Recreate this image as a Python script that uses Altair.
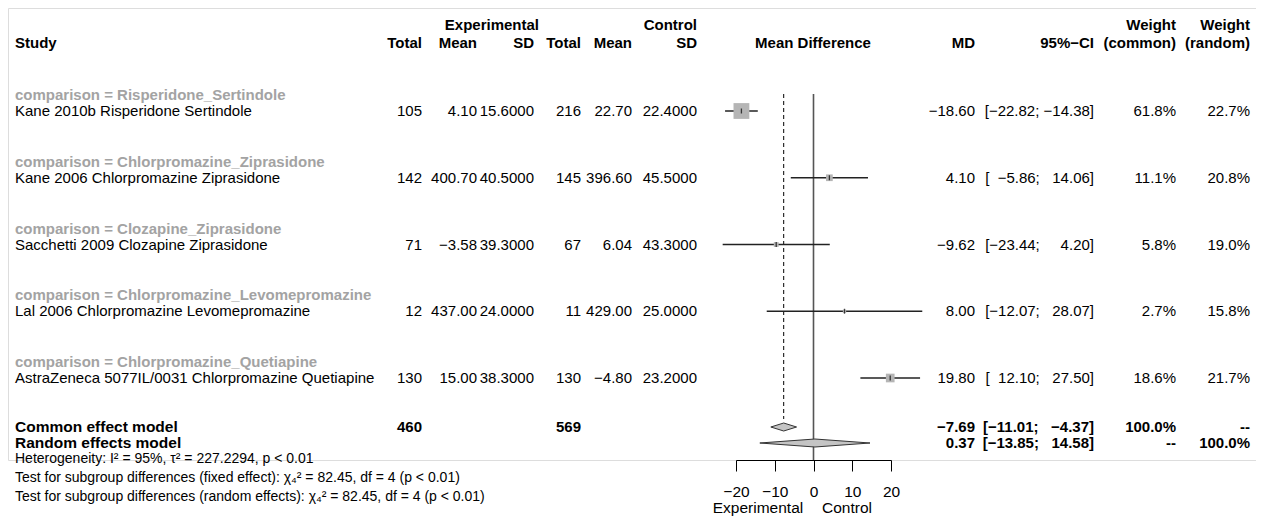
import altair as alt
import pandas as pd

# ---------------- data ----------------
comparisons = ["Risperidone_Sertindole", "Chlorpromazine_Ziprasidone", "Clozapine_Ziprasidone",
               "Chlorpromazine_Levomepromazine", "Chlorpromazine_Quetiapine"]
studies = ["Kane 2010b Risperidone Sertindole", "Kane 2006 Chlorpromazine Ziprasidone",
           "Sacchetti 2009 Clozapine Ziprasidone", "Lal 2006 Chlorpromazine Levomepromazine",
           "AstraZeneca 5077IL/0031 Chlorpromazine Quetiapine"]
n_e = [105, 142, 71, 12, 130]
mean_e = [4.10, 400.70, -3.58, 437.00, 15.00]
sd_e = [15.6, 40.5, 39.3, 24.0, 38.3]
n_c = [216, 145, 67, 11, 130]
mean_c = [22.70, 396.60, 6.04, 429.00, -4.80]
sd_c = [22.4, 45.5, 43.3, 25.0, 23.2]
md = [-18.60, 4.10, -9.62, 8.00, 19.80]
ci_lo = [-22.82, -5.86, -23.44, -12.07, 12.10]
ci_hi = [-14.38, 14.06, 4.20, 28.07, 27.50]
w_common = [61.8, 11.1, 5.8, 2.7, 18.6]
w_random = [22.7, 20.8, 19.0, 15.8, 21.7]

models = ["Common effect model", "Random effects model"]
model_n_e = ["460", ""]
model_n_c = ["569", ""]
model_md = [-7.69, 0.37]
model_lo = [-11.01, -13.85]
model_hi = [-4.37, 14.58]
model_w_common = ["100.0%", "--"]
model_w_random = ["--", "100.0%"]

axis_ticks = [-20, -10, 0, 10, 20]
footnotes = ["Heterogeneity: I\u00b2 = 95%, \u03c4\u00b2 = 227.2294, p < 0.01",
             "Test for subgroup differences (fixed effect): \u03c7\u2084\u00b2 = 82.45, df = 4 (p < 0.01)",
             "Test for subgroup differences (random effects): \u03c7\u2084\u00b2 = 82.45, df = 4 (p < 0.01)"]

# ---------------- layout ----------------
FONT = "Liberation Sans, Arial, Helvetica, sans-serif"
FS = 15
W, H = 1248, 452
ROW = 16.6875
YS = alt.Scale(domain=[0, H / ROW], reverse=True, nice=False, zero=False)
XS = alt.Scale(domain=[-20, 20], range=[728, 883], nice=False, zero=False)
XAX = alt.Axis(values=axis_ticks, domain=True, domainColor="black", domainWidth=1,
               grid=False, tickSize=11, tickColor="black",
               tickWidth=1, labelFont=FONT, labelFontSize=15.5, labelColor="black",
               labelPadding=13, title=None, labelFlush=False)


def r(px):  # chart pixel -> row units
    return px / ROW


r_h1, r_h2 = r(17), r(35)
r_grp = [r(87 + 66.75 * k) for k in range(5)]
r_st = [r(103 + 66.75 * k) for k in range(5)]
r_mod = [r(419), r(435)]
r_foot = [r(451), r(470), r(489)]
r_top, r_dash_end, r_axis = r(86), r(411), H / ROW
dia_h = r(4)


def fmt(v, d=2):
    s = f"{abs(v):.{d}f}"
    return ("\u2212" + s) if v < 0 else s


def ci(lo, hi):
    a, b = fmt(lo), fmt(hi)
    pa = "\u2007" * max(0, 6 - len(a))
    pb = "\u2007" * max(0, 6 - len(b))
    return f"[{pa}{a}; {pb}{b}]"


def txt(values, rows, x, align="right", bold=False, color="black", size=FS, baseline="middle"):
    d = pd.DataFrame({"t": values, "row": rows})
    return alt.Chart(d).mark_text(
        align=align, baseline=baseline, font=FONT, fontSize=size,
        fontWeight="bold" if bold else "normal", color=color
    ).encode(x=alt.value(x), y=alt.Y("row:Q", scale=YS, axis=None), text="t:N")


# column right edges (chart px)
C_ST, C_NE, C_ME, C_SE, C_NC, C_MC, C_SC = 7, 414, 469, 526, 573, 624, 689
C_MD, C_CI, C_WC, C_WR = 967, 1086, 1168, 1242

layers = []
layers += [
    txt(["Experimental"], [r_h1], 531, bold=True),
    txt(["Control"], [r_h1], C_SC, bold=True),
    txt(["Weight"], [r_h1], C_WC, bold=True),
    txt(["Weight"], [r_h1], C_WR, bold=True),
    txt(["Study"], [r_h2], C_ST, align="left", bold=True),
    txt(["Total"], [r_h2], C_NE, bold=True),
    txt(["Mean"], [r_h2], C_ME, bold=True),
    txt(["SD"], [r_h2], C_SE, bold=True),
    txt(["Total"], [r_h2], C_NC, bold=True),
    txt(["Mean"], [r_h2], C_MC, bold=True),
    txt(["SD"], [r_h2], C_SC, bold=True),
    txt(["Mean Difference"], [r_h2], 805, align="center", bold=True),
    txt(["MD"], [r_h2], C_MD, bold=True),
    txt(["95%\u2212CI"], [r_h2], C_CI, bold=True),
    txt(["(common)"], [r_h2], C_WC, bold=True),
    txt(["(random)"], [r_h2], C_WR, bold=True),
]
layers += [
    txt(["comparison = " + c for c in comparisons], r_grp, C_ST, align="left", bold=True, color="#a3a3a3"),
    txt(studies, r_st, C_ST, align="left"),
    txt([str(v) for v in n_e], r_st, C_NE),
    txt([fmt(v) for v in mean_e], r_st, C_ME),
    txt([fmt(v, 4) for v in sd_e], r_st, C_SE),
    txt([str(v) for v in n_c], r_st, C_NC),
    txt([fmt(v) for v in mean_c], r_st, C_MC),
    txt([fmt(v, 4) for v in sd_c], r_st, C_SC),
    txt([fmt(v) for v in md], r_st, C_MD),
    txt([ci(a, b) for a, b in zip(ci_lo, ci_hi)], r_st, C_CI),
    txt([f"{v:.1f}%" for v in w_common], r_st, C_WC),
    txt([f"{v:.1f}%" for v in w_random], r_st, C_WR),
]
layers += [
    txt(models, r_mod, C_ST, align="left", bold=True, size=15.5),
    txt(model_n_e, r_mod, C_NE, bold=True),
    txt(model_n_c, r_mod, C_NC, bold=True),
    txt([fmt(v) for v in model_md], r_mod, C_MD, bold=True),
    txt([ci(a, b) for a, b in zip(model_lo, model_hi)], r_mod, C_CI, bold=True),
    txt(model_w_common, r_mod, C_WC, bold=True),
    txt(model_w_random, r_mod, C_WR, bold=True),
    txt(footnotes, r_foot, C_ST, align="left", size=14),
    txt(["Experimental"], [r(508)], 750, align="center", size=15.5, baseline="bottom"),
    txt(["Control"], [r(508)], 839, align="center", size=15.5, baseline="bottom"),
]

# forest part
st = pd.DataFrame({"md": md, "lo": ci_lo, "hi": ci_hi, "w": w_common, "row": r_st})
X = lambda f: alt.X(f, scale=XS, axis=XAX)
Y = alt.Y("row:Q", scale=YS, axis=None)

zero_df = pd.DataFrame({"x": [0.0], "top": [r_top], "bot": [r_axis]})
dash_df = pd.DataFrame({"x": [model_md[0]], "top": [r_top], "bot": [r_dash_end]})
zero_line = alt.Chart(zero_df).mark_rule(color="#555555", strokeWidth=1.6).encode(
    x=X("x:Q"), y=alt.Y("top:Q", scale=YS, axis=None), y2="bot:Q")
dash_line = alt.Chart(dash_df).mark_rule(color="black", strokeWidth=1, strokeDash=[4, 3]).encode(
    x=X("x:Q"), y=alt.Y("top:Q", scale=YS, axis=None), y2="bot:Q")

squares = alt.Chart(st).mark_square(color="#b5b5b5", opacity=1).encode(
    x=X("md:Q"), y=Y,
    size=alt.Size("w:Q", scale=alt.Scale(domain=[0, 61.8], range=[0, 250]), legend=None))
ci_lines = alt.Chart(st).mark_rule(color="#222222", strokeWidth=1.3).encode(x=X("lo:Q"), x2="hi:Q", y=Y)
pt = alt.Chart(st).mark_tick(orient="vertical", size=5, thickness=1.3, color="black").encode(x=X("md:Q"), y=Y)

dia_rows = []
for name, m, lo, hi, rr in zip(models, model_md, model_lo, model_hi, r_mod):
    dia_rows += [
        {"model": name, "x": lo, "y1": rr, "y2": rr},
        {"model": name, "x": m, "y1": rr - dia_h, "y2": rr + dia_h},
        {"model": name, "x": hi, "y1": rr, "y2": rr},
    ]
diamonds = alt.Chart(pd.DataFrame(dia_rows)).mark_area(
    fill="#c4c4c4", stroke="#333333", strokeWidth=1, orient="vertical").encode(
    x=X("x:Q"), y=alt.Y("y1:Q", scale=YS, axis=None), y2="y2:Q", detail="model:N")

chart = alt.layer(zero_line, dash_line, ci_lines, squares, pt, diamonds, *layers).properties(
    width=W, height=H,
    autosize=alt.AutoSizeParams(type="none"),
    padding={"left": 0, "top": 0, "right": 0, "bottom": 56},
).configure_view(stroke="transparent", strokeWidth=0).configure_axis(
    grid=False
).configure(background="white")

chart.save("out.html", embed_options={"renderer": "svg", "actions": False})
